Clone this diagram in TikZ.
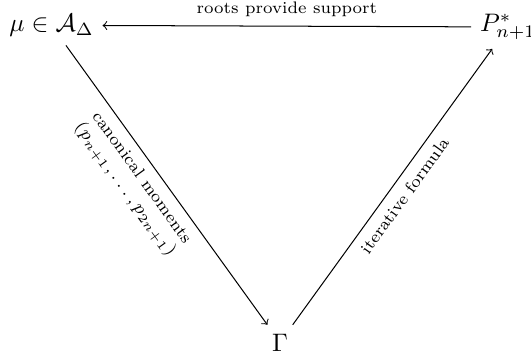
\documentclass[tikz,border=0pt]{standalone}
\usepackage{amsmath,amssymb}
\begin{document}
\begin{tikzpicture}[x=0.01389cm,y=-0.01389cm,
  obj/.style={inner sep=0.3333em,anchor=base},
  lbl/.style={font=\fontsize{6.6}{7.9}\selectfont},
  arr/.style={->}]
\useasboundingbox (0,0) rectangle (531,356);
\node[obj] (mu) at (51.5,31.5) {$\mu\in\mathcal{A}_\Delta$};
\node[obj] (P) at (508,31.5) {$P^*_{n+1}$};
\node[obj] (G) at (280,351) {$\Gamma$};
\draw[arr] (P) -- node[lbl,above] {roots provide support} (mu);
\draw[arr] (mu) -- node[lbl,sloped,below,align=center,pos=0.44] {canonical moments\\$(p_{n+1},\ldots,p_{2n+1})$} (G);
\draw[arr] (G) -- node[lbl,sloped,below] {iterative formula} (P);
\end{tikzpicture}
\end{document}
